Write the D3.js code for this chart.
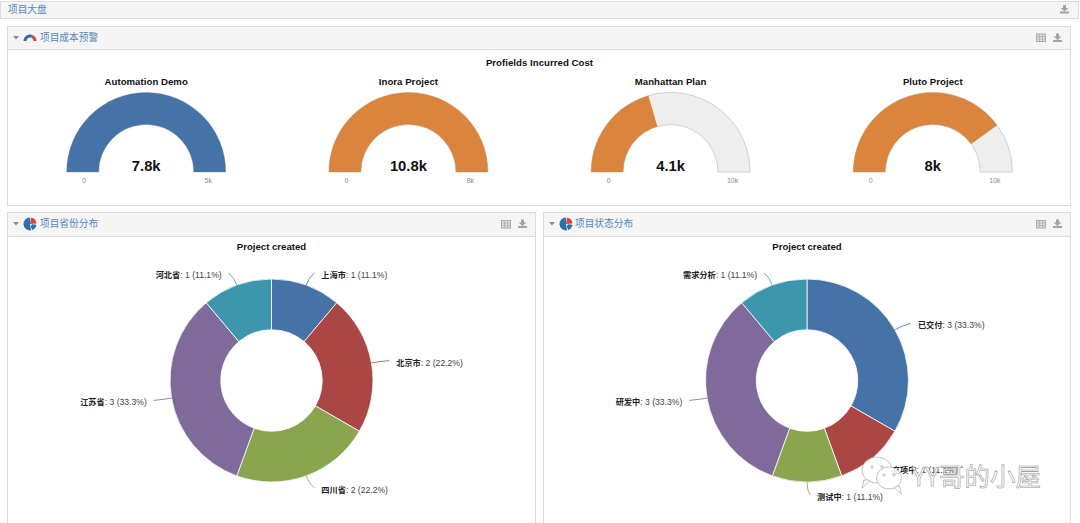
<!DOCTYPE html>
<html><head><meta charset="utf-8">
<script src="https://cdn.jsdelivr.net/npm/d3@7/dist/d3.min.js"></script>
<style>html,body{margin:0;padding:0;background:#fff;overflow:hidden}svg{display:block}
text{font-family:"Liberation Sans","Noto Sans CJK SC",sans-serif}</style></head><body>
<svg id="c" width="1080" height="523"></svg>
<script>
// ---- data ----
const boardTitle = "项目大盘";
const gaugeSectionTitle = "项目成本预警";
const gaugeChartTitle = "Profields Incurred Cost";
const gaugeNames = ["Automation Demo","Inora Project","Manhattan Plan","Pluto Project"];
const gaugeValues = [7800,10800,4100,8000];
const gaugeMaxima = [5000,8000,10000,10000];
const gaugeValueLabels = ["7.8k","10.8k","4.1k","8k"];
const gaugeMaxLabels = ["5k","8k","10k","10k"];
const gaugeColors = ["#4572A7","#DB843D","#DB843D","#DB843D"];
const provinceNames = ["上海市","北京市","四川省","江苏省","河北省"];
const provinceValues = [1,2,2,3,1];
const statusNames = ["已交付","立项中","测试中","研发中","需求分析"];
const statusValues = [3,1,1,3,1];
const pieColors = ["#4572A7","#AA4643","#89A54E","#80699B","#3D96AE"];

const svg = d3.select("#c");
const blue="#5486bf";

function panel(x,y,w,h,hh){
  svg.append("rect").attr("x",x+.5).attr("y",y+.5).attr("width",w-1).attr("height",h-1).attr("fill","#fff").attr("stroke","#dcdcdc");
  svg.append("rect").attr("x",x+1).attr("y",y+1).attr("width",w-2).attr("height",hh-1).attr("fill","#f5f5f5");
  svg.append("line").attr("x1",x).attr("x2",x+w).attr("y1",y+hh+.5).attr("y2",y+hh+.5).attr("stroke","#dcdcdc");
}
function dlIcon(x,y){
  const g=svg.append("g").attr("transform",`translate(${x},${y})`).attr("fill","#a3a3a3");
  g.append("path").attr("d","M2.5,0H5.5V3H8L4,6.5L0,3H2.5Z").attr("transform","translate(.5,0)");
  g.append("rect").attr("x",0).attr("y",6.5).attr("width",9).attr("height",2);
}
function tableIcon(x,y){
  const g=svg.append("g").attr("transform",`translate(${x},${y})`);
  g.append("rect").attr("x",.5).attr("y",.5).attr("width",9).attr("height",7.5).attr("fill","#e4e4e4").attr("stroke","#a9a9a9");
  [3.5,6.5].forEach(d=>g.append("line").attr("x1",d).attr("x2",d).attr("y1",0).attr("y2",8).attr("stroke","#b5b5b5"));
  [3,5.5].forEach(d=>g.append("line").attr("y1",d).attr("y2",d).attr("x1",0).attr("x2",10).attr("stroke","#b5b5b5"));
}
function tri(x,y){svg.append("path").attr("d",`M${x},${y}h6l-3,3.5z`).attr("fill","#8c8c8c");}
function headText(x,y,t){svg.append("text").attr("x",x).attr("y",y).attr("font-size",9.7).attr("fill",blue).style("font-family",'"Noto Sans CJK SC"').text(t);}
function gaugeIcon(x,y){
  const a=d3.arc().innerRadius(3.5).outerRadius(6.5);
  const g=svg.append("g").attr("transform",`translate(${x},${y})`);
  g.append("path").attr("d",a({startAngle:-Math.PI/2,endAngle:.35})).attr("fill","#2f6db0");
  g.append("path").attr("d",a({startAngle:.35,endAngle:Math.PI/2})).attr("fill","#d9453a");
}
function pieIcon(x,y){
  const a=d3.arc().innerRadius(0).outerRadius(6.5);
  const g=svg.append("g").attr("transform",`translate(${x},${y})`);
  g.append("path").attr("d",a({startAngle:Math.PI*.95,endAngle:Math.PI*2})).attr("fill","#2f6db0");
  g.append("path").attr("d",a({startAngle:.15,endAngle:1.5})).attr("fill","#d9453a");
  g.append("path").attr("d",d3.arc().innerRadius(2).outerRadius(6.5)({startAngle:1.7,endAngle:2.8})).attr("fill","#2f6db0");
}

// top bar
svg.append("rect").attr("x",.5).attr("y",1.5).attr("width",1078).attr("height",17).attr("fill","#f5f5f5").attr("stroke","#dcdcdc");
headText(8,12.5,boardTitle);
dlIcon(1060,5);

// gauge panel
panel(7,26,1064,180,23);
tri(13,36); gaugeIcon(30,41); headText(40,41,gaugeSectionTitle);
tableIcon(1036,33.5); dlIcon(1053,33.5);
svg.append("text").attr("x",539.5).attr("y",66).attr("text-anchor","middle").attr("font-size",9.6).attr("font-weight","bold").attr("letter-spacing",.05).attr("fill","#111").text(gaugeChartTitle);

const gx = d3.scalePoint().domain(gaugeNames).range([146.2,932.8]);
const gR=79.5, gr=47.5, gy=172;
gaugeNames.forEach((n,i)=>{
  const cx=gx(n);
  const ang=d3.scaleLinear().domain([0,gaugeMaxima[i]]).range([-Math.PI/2,Math.PI/2]).clamp(true);
  const arc=d3.arc().innerRadius(gr).outerRadius(gR);
  const g=svg.append("g").attr("transform",`translate(${cx},${gy})`);
  g.append("path").attr("d",arc({startAngle:-Math.PI/2,endAngle:Math.PI/2})).attr("fill","#eee").attr("stroke","#d0d0d0");
  g.append("path").attr("d",arc({startAngle:-Math.PI/2,endAngle:ang(gaugeValues[i])})).attr("fill",gaugeColors[i]);
  svg.append("text").attr("x",cx).attr("y",85).attr("text-anchor","middle").attr("font-size",9.6).attr("font-weight","bold").attr("letter-spacing",.05).attr("fill","#111").text(n);
  g.append("text").attr("x",0).attr("y",-1).attr("text-anchor","middle").attr("font-size",14.8).attr("font-weight","bold").attr("fill","#111").text(gaugeValueLabels[i]);
  g.append("text").attr("x",-62).attr("y",11).attr("text-anchor","middle").attr("font-size",7).attr("fill","#8a8a8a").text("0");
  g.append("text").attr("x",62).attr("y",11).attr("text-anchor","middle").attr("font-size",7).attr("fill","#8a8a8a").text(gaugeMaxLabels[i]);
});

// pies
function piePanel(x,w,title,names,values,cx,tx){
  panel(x,212,w,320,24);
  tri(x+6,222); pieIcon(x+23,224); headText(tx,227,title);
  tableIcon(x+w-35,220); dlIcon(x+w-18,219.5);
  svg.append("text").attr("x",cx).attr("y",250).attr("text-anchor","middle").attr("font-size",9.6).attr("font-weight","bold").attr("fill","#111").text("Project created");
  const cy=380.5, r=101.5;
  const total=d3.sum(values);
  const arcs=d3.pie().sort(null)(values);
  const arc=d3.arc().innerRadius(r/2).outerRadius(r);
  const g=svg.append("g").attr("transform",`translate(${cx},${cy})`);
  g.selectAll("path").data(arcs).join("path").attr("d",arc).attr("fill",(d,i)=>pieColors[i]).attr("stroke","#fff").attr("stroke-width",.8);
  arcs.forEach((d,i)=>{
    const a=(d.startAngle+d.endAngle)/2, s=Math.sin(a), c=Math.cos(a);
    const right=a<=Math.PI+1e-6, side=right?1:-1;
    const ly=-(r+13)*c+2, lx=(r+15)*s+side*10;
    const ex=lx-side*7, ey=ly-2;
    const p=d3.path();
    p.moveTo(r*s,-r*c);
    p.quadraticCurveTo((r+8)*s,-(r+8)*c,ex,ey);
    g.append("path").attr("d",p.toString()).attr("fill","none").attr("stroke",pieColors[i]).attr("stroke-width",.8);
    const t=g.append("text").attr("x",lx).attr("y",ly+3).attr("text-anchor",right?"start":"end").attr("font-size",8.6).attr("fill","#444");
    t.append("tspan").attr("font-weight","bold").attr("fill","#222").style("font-family",'"Noto Sans CJK SC"').attr("font-size",8.2).text(names[i]);
    t.append("tspan").text(`: ${values[i]} (${d3.format(".1f")(values[i]/total*100)}%)`);
  });
}
piePanel(7,529,"项目省份分布",provinceNames,provinceValues,271.5,40);
piePanel(543,528,"项目状态分布",statusNames,statusValues,807,575);

// watermark
const wm=svg.append("g").attr("fill","#fff").attr("stroke","#a8a8a8").attr("stroke-width",.7);
function bubble(cx,cy,rx,ry,dir){
  wm.append("path").attr("d",`M${cx+dir*(rx-9)},${cy+ry-3}l${dir*9},${8}l${-dir*2},${-8}z`).attr("fill-opacity",.85);
  wm.append("ellipse").attr("cx",cx).attr("cy",cy).attr("rx",rx).attr("ry",ry).attr("fill-opacity",.85);
  [-5,5].forEach(d=>wm.append("circle").attr("cx",cx+d).attr("cy",cy-3).attr("r",1.2).attr("fill","#fff"));
}
bubble(877,470,15,13,-1);
bubble(889,478,12.5,11,1);
svg.append("text").attr("x",912).attr("y",486).attr("font-size",25.5).attr("fill","#fff").attr("fill-opacity",.75).attr("stroke","#8f8f8f").attr("stroke-width",.55).style("font-family",'"Noto Sans CJK SC"').text("YY哥的小屋");
</script></body></html>
